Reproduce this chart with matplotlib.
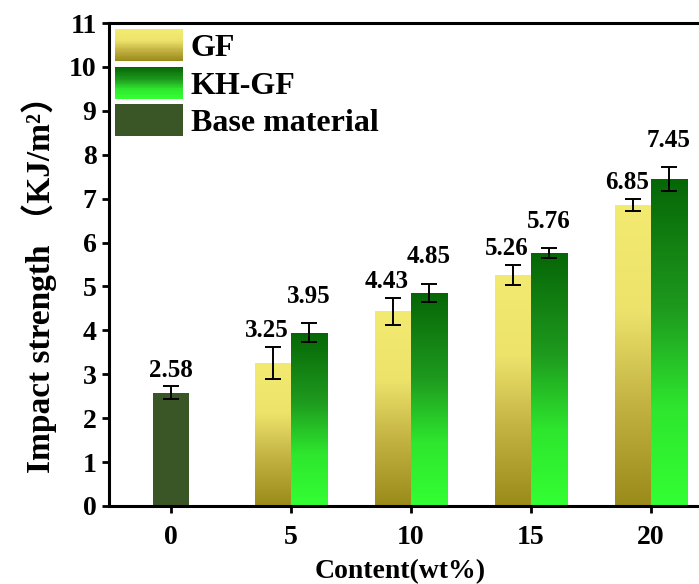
import numpy as np
import matplotlib
matplotlib.use("Agg")
import matplotlib.pyplot as plt
from matplotlib.colors import LinearSegmentedColormap
from matplotlib.legend_handler import HandlerBase
from matplotlib.patches import Rectangle

plt.rcParams['font.family'] = ['Liberation Serif', 'Noto Sans CJK SC']
plt.rcParams['font.weight'] = 'bold'

# data
contents = [5, 10, 15, 20]
gf_vals = [3.25, 4.43, 5.26, 6.85]
gf_err = [0.36, 0.30, 0.22, 0.14]
kh_vals = [3.95, 4.85, 5.76, 7.45]
kh_err = [0.22, 0.21, 0.11, 0.27]
base_x = [0]
base_vals = [2.58]
base_err = [0.15]
xticks = [0, 5, 10, 15, 20]
yticks = list(range(0, 12))

gf_cmap = LinearSegmentedColormap.from_list(
    'gf', [(0.0, '#9a8a1a'), (0.35, '#c4b444'), (0.65, '#ede36b'), (1.0, '#f3ea72')])
kh_cmap = LinearSegmentedColormap.from_list(
    'kh', [(0.0, '#33ff33'), (0.3, '#2ee62e'), (0.6, '#1e9a1e'), (1.0, '#066606')])
base_color = '#3b5626'

fig = plt.figure(figsize=(6.99, 5.84), dpi=100)
ax = fig.add_axes([0.156, 0.1336, 0.844, 0.827])

width = 1.5
grad = np.linspace(0, 1, 256).reshape(-1, 1)


def gradient_bars(xs, vals, cmap):
    bars = ax.bar(xs, vals, width=width, color='none', edgecolor='none', zorder=2)
    for b in bars:
        x0, y0 = b.get_x(), b.get_y()
        im = ax.imshow(grad, extent=[x0, x0 + b.get_width(), y0, y0 + b.get_height()],
                       origin='lower', aspect='auto', cmap=cmap, zorder=2)
        im.set_clip_path(b)
    return bars


gf_x = [c - 0.75 for c in contents]
kh_x = [c + 0.75 for c in contents]

ax.bar(base_x, base_vals, width=width, color=base_color, zorder=2)
gradient_bars(gf_x, gf_vals, gf_cmap)
gradient_bars(kh_x, kh_vals, kh_cmap)

ekw = dict(fmt='none', ecolor='black', elinewidth=1.4, capsize=5.5, capthick=1.4, zorder=3)
ax.errorbar(base_x, base_vals, yerr=base_err, **ekw)
ax.errorbar(gf_x, gf_vals, yerr=gf_err, **ekw)
ax.errorbar(kh_x, kh_vals, yerr=kh_err, **ekw)

# value labels
for x, v, e in zip(base_x, base_vals, base_err):
    ax.text(x, v + e + 0.1, f'{v:.2f}', ha='center', va='bottom', fontsize=18, fontweight='bold')
for x, v, e in zip(gf_x, gf_vals, gf_err):
    ax.text(x - 0.25, v + e + 0.12, f'{v:.2f}', ha='center', va='bottom', fontsize=18, fontweight='bold')
for x, v, e in zip(kh_x, kh_vals, kh_err):
    ax.text(x, v + e + 0.35, f'{v:.2f}', ha='center', va='bottom', fontsize=18, fontweight='bold')

ax.set_xlim(-2.58, 22.0)
ax.set_ylim(0, 11)
ax.set_xticks(xticks)
ax.set_yticks(yticks)
ax.tick_params(axis='both', direction='out', length=5, width=2, labelsize=20)
ax.tick_params(axis='x', pad=9)
ax.tick_params(axis='y', pad=4)
for s in ['left', 'bottom', 'top']:
    ax.spines[s].set_linewidth(2.2)
ax.spines['right'].set_visible(False)

ax.set_xlabel('Content(wt%)', fontsize=20, fontweight='bold')
ax.set_ylabel('Impact strength （KJ/m²）', fontsize=24, fontweight='bold')
ax.xaxis.set_label_coords(0.493, -0.11)
ax.yaxis.set_label_coords(-0.088, 0.475)


class GradientHandler(HandlerBase):
    def __init__(self, cmap, n=40):
        super().__init__()
        self.cmap = cmap
        self.n = n

    def create_artists(self, legend, orig_handle, xdescent, ydescent, width, height, fontsize, trans):
        arts = []
        for i in range(self.n):
            r = Rectangle((-xdescent, -ydescent + height * i / self.n), width, height / self.n * 1.05,
                          facecolor=self.cmap(i / (self.n - 1)), edgecolor='none', transform=trans)
            arts.append(r)
        return arts


h_gf = Rectangle((0, 0), 1, 1)
h_kh = Rectangle((0, 0), 1, 1)
h_base = Rectangle((0, 0), 1, 1, facecolor=base_color, edgecolor='none')
ax.legend([h_gf, h_kh, h_base], ['GF', 'KH-GF', 'Base material'],
          handler_map={h_gf: GradientHandler(gf_cmap), h_kh: GradientHandler(kh_cmap)},
          loc='upper left', bbox_to_anchor=(0.0, 1.0), frameon=False,
          prop={'size': 23, 'weight': 'bold'}, handlelength=2.1, handleheight=1.15,
          handletextpad=0.25, labelspacing=0.12, borderpad=0.1, borderaxespad=0.1)

fig.savefig('out.png', dpi=100)
